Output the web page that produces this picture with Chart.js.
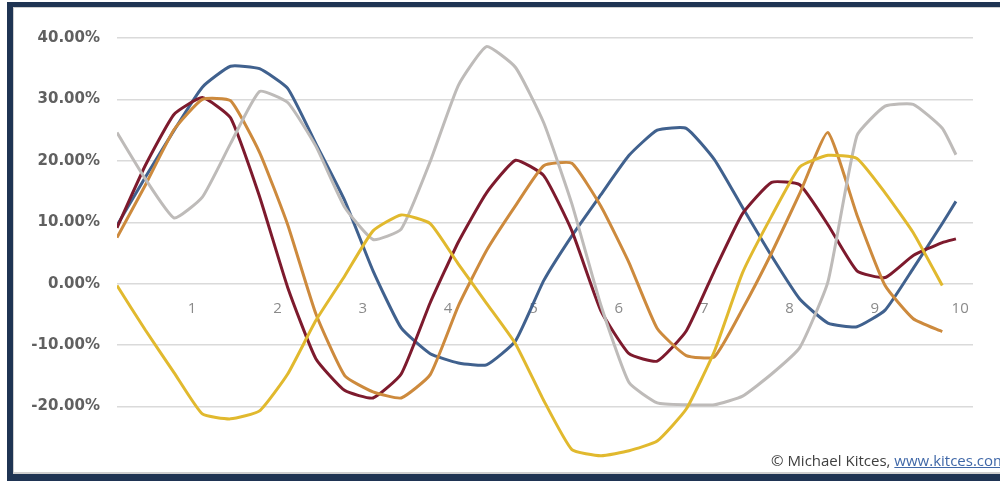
<!DOCTYPE html>
<html>
<head>
<meta charset="utf-8">
<script src="https://cdn.jsdelivr.net/npm/chart.js"></script>
<style>
  html, body { margin: 0; padding: 0; background: #fff; }
  body { width: 1000px; height: 483px; position: relative; overflow: hidden; }
  .frame {
    position: absolute; left: 7px; top: 2px; width: 1010px; height: 467px;
    border-left: 6px solid #1f3453; border-top: 5px solid #1f3453; border-bottom: 7px solid #1f3453;
  }
  .inner {
    position: absolute; left: 0; top: 0; right: 0; bottom: 0;
    border-left: 1px solid #cfcfcf; border-top: 1px solid #cfcfcf; border-bottom: 2px solid #cfcfcf;
  }
  #chart { position: absolute; left: 0; top: 0; }
  .credit {
    position: absolute; left: 771px; top: 450px; white-space: nowrap;
    font-family: "Open Sans", sans-serif; font-size: 15px; color: #404040;
  }
  .credit span { color: #4068a8; text-decoration: underline; }
</style>
</head>
<body>
<div class="frame"><div class="inner"></div></div>
<canvas id="chart" width="1000" height="494"></canvas>
<div class="credit">© Michael Kitces, <span>www.kitces.com</span></div>
<script>
// x positions shared by all series (axis units)
const xs = [0.12, 0.45, 0.79, 1.12, 1.45, 1.79, 2.12, 2.45, 2.79, 3.12,
            3.45, 3.79, 4.12, 4.45, 4.79, 5.12, 5.45, 5.79, 6.12, 6.45,
            6.79, 7.12, 7.45, 7.79, 8.12, 8.45, 8.79, 9.12, 9.45, 9.79, 9.95];

const blue   = [9.5, 17.3, 25, 32, 35.4, 35, 31.8, 22.8, 13.5, 2.1,
                -7.2, -11.4, -12.9, -13.2, -9.3, 0.5, 7.8, 14.5, 20.9, 25,
                25.3, 20.2, 12.4, 4.5, -2.5, -6.4, -7, -4.3, 2.5, 9.8, 13.4];
const maroon = [9.1, 19.2, 27.6, 30.3, 27, 14.2, -0.6, -12.2, -17.4, -18.6,
                -14.7, -3.1, 6.8, 14.8, 20.1, 17.6, 8.6, -4.4, -11.4, -12.6,
                -7.7, 2.1, 11.4, 16.5, 16.1, 9.6, 2.1, 1, 4.6, 6.7, 7.3];
const orange = [7.5, 16, 25.1, 30, 29.8, 21.4, 9.6, -4.9, -15, -17.6,
                -18.6, -14.8, -3.6, 5.4, 12.7, 19.2, 19.6, 12.6, 3.4, -7.3,
                -11.7, -11.9, -4.1, 5, 14.7, 24.6, 11.2, -0.3, -5.7, -7.8, null];
const gray   = [24.6, 17.1, 10.7, 14.1, 22.8, 31.3, 29.5, 22.4, 12.4, 7.2,
                8.9, 19.9, 32.3, 38.6, 35.2, 26.2, 13, -3.5, -16.1, -19.4,
                -19.7, -19.7, -18.3, -14.7, -10.4, 0.3, 24.1, 28.9, 29.2, 25.3, 21];
const yellow = [-0.3, -7.5, -14.5, -21.2, -22, -20.7, -14.7, -6, 1.3, 8.6,
                11.2, 9.8, 3.2, -3.2, -9.8, -19, -27, -28, -27.2, -25.6,
                -20.4, -11, 1.8, 11, 19, 20.9, 20.4, 14.8, 8.3, -0.3, null];

const xTicks = [1, 2, 3, 4, 5, 6, 7, 8, 9, 10];
const yTicks = [-30, -20, -10, 0, 10, 20, 30, 40];

const gridColor = '#dadada';
const toPoints = (ys) => xs.map((x, i) => ({ x: x, y: ys[i] }));

function line(label, ys, color, order) {
    return {
        label: label,
        data: toPoints(ys),
        borderColor: color,
        backgroundColor: color,
        borderWidth: 3,
        pointRadius: 0,
        fill: false,
        showLine: true,
        spanGaps: false,
        tension: 0.15,
        order: order
    };
}

new Chart(document.getElementById('chart'), {
    type: 'scatter',
    data: {
        datasets: [
            line('Yellow', yellow, '#e1b92e', 0),
            line('Gray', gray, '#bebbb9', 1),
            line('Orange', orange, '#cd8a3d', 2),
            line('Maroon', maroon, '#7d1a2d', 3),
            line('Blue', blue, '#40618e', 4)
        ]
    },
    options: {
        responsive: false,
        animation: false,
        devicePixelRatio: 1,
        layout: { padding: { top: 38, right: 27, bottom: 5, left: 0 } },
        plugins: {
            legend: { display: false },
            tooltip: { enabled: false }
        },
        scales: {
            x: {
                type: 'linear',
                position: { y: 0 },
                min: 0.12,
                max: 10.15,
                afterBuildTicks: (scale) => { scale.ticks = xTicks.map(v => ({ value: v })); },
                grid: { display: false, drawTicks: false },
                border: { display: false },
                ticks: {
                    padding: 16,
                    color: '#8a8a8a',
                    font: { family: 'Open Sans', size: 15 },
                    maxRotation: 0,
                    autoSkip: false
                }
            },
            y: {
                min: -30,
                max: 40,
                afterBuildTicks: (scale) => { scale.ticks = yTicks.map(v => ({ value: v })); },
                afterFit: (scale) => { scale.width = 117; },
                grid: {
                    drawTicks: false,
                    lineWidth: 1.5,
                    color: (ctx) => ctx.tick && ctx.tick.value === -30 ? 'rgba(0,0,0,0)' : gridColor
                },
                border: { display: false },
                ticks: {
                    padding: 17,
                    color: '#606060',
                    font: { family: 'DejaVu Sans', size: 15, weight: 'bold' },
                    callback: (value) => value === -30 ? '' : value.toFixed(2) + '%'
                }
            }
        }
    }
});
</script>
</body>
</html>
